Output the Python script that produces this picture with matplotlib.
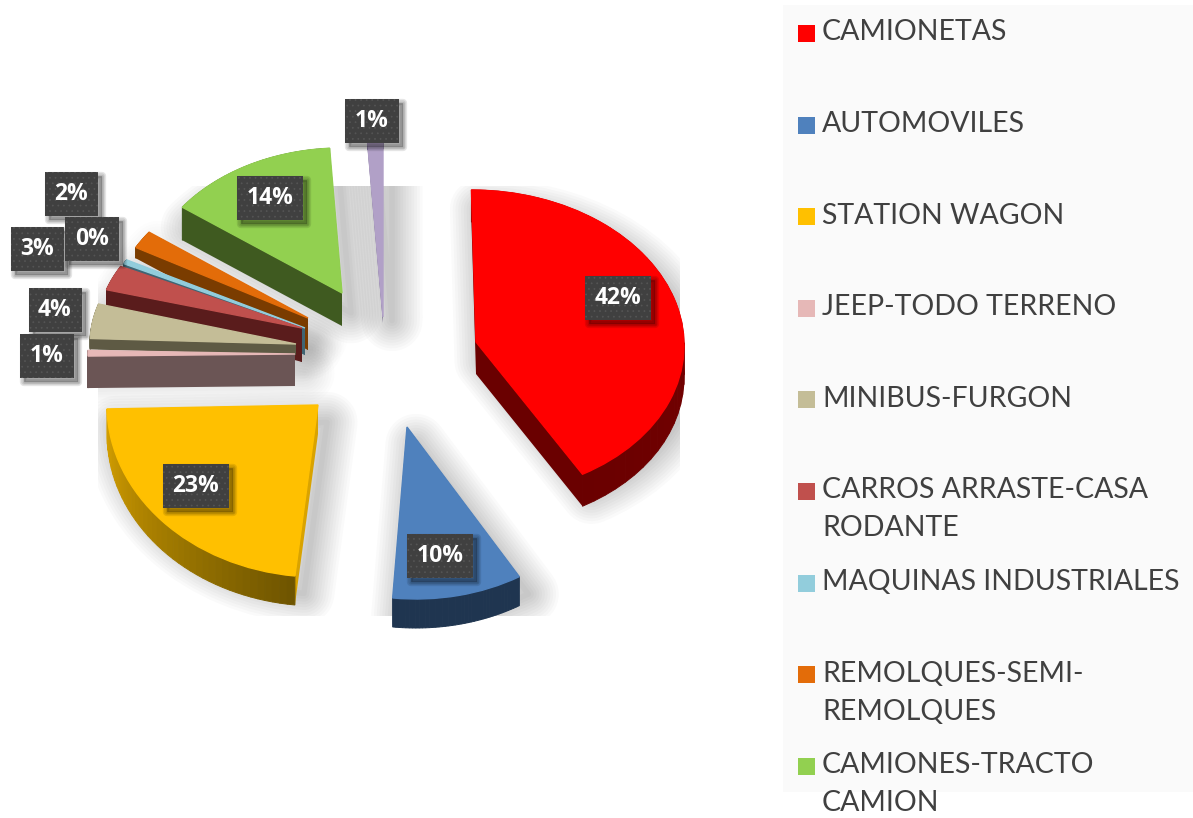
import numpy as np
import matplotlib
matplotlib.use("Agg")
import matplotlib.pyplot as plt
from matplotlib.patches import Rectangle, Wedge
from matplotlib.transforms import Affine2D
from matplotlib.colors import to_rgb

# =========================================================
# data
# =========================================================
legend_labels = ["CAMIONETAS", "AUTOMOVILES", "STATION WAGON", "JEEP-TODO TERRENO",
                 "MINIBUS-FURGON", "CARROS ARRASTE-CASA\nRODANTE",
                 "MAQUINAS INDUSTRIALES", "REMOLQUES-SEMI-\nREMOLQUES",
                 "CAMIONES-TRACTO\nCAMION"]
values = [42, 10, 23, 1, 4, 3, 0.49, 2, 14, 1]
colors = ["#ff0000", "#4f81bd", "#ffc000", "#e6b8b7", "#c4bd97",
          "#c0504d", "#92cddc", "#e36c09", "#92d050", "#b1a0c7"]

# =========================================================
# layout, in pixels of the picture
# =========================================================
rim_from = ["#6a0000", "#1f3550", "#d9a300", "#6b5555", "#5e5a44",
            "#5a1c1c", "#3f6473", "#7a3c00", "#3f5a20", "#4b3f6b"]
rim_to = ["#7d0000", "#1f3550", "#6e5400", "#6b5555", "#5e5a44",
          "#5a1c1c", "#3f6473", "#7a3c00", "#3f5a20", "#4b3f6b"]
centre_x = [476, 407, 318, 295, 296, 302, 305, 308, 342, 383]
centre_y = [342, 427, 405, 354, 344, 328, 328, 318, 293, 317]
radius_x = [208, 212, 211, 207, 206, 204, 204, 197, 198, 246]
radius_y = [152, 172, 172, 90, 140, 134, 140, 145, 145, 174]
shear = [0.03, 0.052, 0.0, 0.0, 0.0, 0.0, 0.0, 0.0, 0.0, 0.0]
depth = [32, 29, 29, 32, 11, 34, 27, 32, 33, 6]
taper = [1.0, 1.0, 1.0, 1.0, 1.0, 1.4, 1.33, 1.3, 1.0, 1.0]
shadow_alpha = [0.02, 0.02, 0.02, 0.012, 0.006, 0.006, 0.003, 0.006, 0.02, 0.02]
draw_order = [9, 8, 7, 6, 5, 4, 3, 2, 0, 1]
label_x = [618, 440, 196, 47, 55, 37, 92, 71, 270, 372]
label_y = [298, 556, 486, 356, 310, 249, 239, 194, 198, 121]

# =========================================================
# plotting
# =========================================================
plt.rcParams["hatch.linewidth"] = 0.5
fig = plt.figure(figsize=(11.93, 8.18), dpi=100)
ax = fig.add_axes([0, 0, 1, 1])

wedges, _, pct_texts = ax.pie(values, colors=colors, startangle=90, counterclock=False,
                              autopct="%.0f%%", radius=1)
ax.set_aspect("auto")
ax.set_xlim(0, 1193)
ax.set_ylim(818, 0)
ax.axis("off")


def face_matrix(i, dy=0.0, scale_y=1.0):
    # unit pie -> pixels for one slice (every slice has its own placement)
    ry = radius_y[i] * scale_y
    return np.array([[radius_x[i], -shear[i] * ry, centre_x[i]],
                     [0.0, -ry, centre_y[i] + dy],
                     [0.0, 0.0, 1.0]])


def to_pixels(matrix, angles):
    pts = np.column_stack([np.cos(angles), np.sin(angles), np.ones(len(angles))])
    return (matrix @ pts.T).T[:, :2]


# soft shadows, cut off by the picture area of the original
clip = Rectangle((98, 186), 582, 430, transform=ax.transData)
for i, w in enumerate(wedges):
    tr = Affine2D(face_matrix(i, dy=depth[i] * 0.6)).translate(9, 0) + ax.transData
    for lw in range(44, 0, -4):
        s = Wedge((0, 0), 1, w.theta1, w.theta2, facecolor="none",
                  edgecolor=(0, 0, 0, shadow_alpha[i]), linewidth=lw,
                  joinstyle="round", zorder=1)
        s.set_transform(tr)
        ax.add_patch(s)
        s.set_clip_path(clip)

# slices with their sides
for rank, i in enumerate(draw_order):
    w = wedges[i]
    z = 2 + rank
    top = face_matrix(i)
    bottom = face_matrix(i, dy=depth[i], scale_y=taper[i])
    n = 40
    angles = np.radians(np.linspace(w.theta1, w.theta2, n + 1))
    top_arc = to_pixels(top, angles)
    bottom_arc = to_pixels(bottom, angles)
    c0, c1 = np.array(to_rgb(rim_from[i])), np.array(to_rgb(rim_to[i]))
    apex_top = top[:2, 2]
    apex_bottom = bottom[:2, 2]
    for end in (0, n):
        ax.fill([apex_top[0], top_arc[end, 0], bottom_arc[end, 0], apex_bottom[0]],
                [apex_top[1], top_arc[end, 1], bottom_arc[end, 1], apex_bottom[1]],
                color=c0, lw=0, zorder=z)
    for j in range(n):
        col = c0 + (c1 - c0) * (j + 0.5) / n
        ax.fill([top_arc[j, 0], top_arc[j + 1, 0], bottom_arc[j + 1, 0], bottom_arc[j, 0]],
                [top_arc[j, 1], top_arc[j + 1, 1], bottom_arc[j + 1, 1], bottom_arc[j, 1]],
                color=col, lw=0.7, zorder=z)
    w.set_transform(Affine2D(top) + ax.transData)
    w.set_zorder(z + 0.5)
    w.set_edgecolor(colors[i])
    w.set_linewidth(1)

# percentage labels
for i, t in enumerate(pct_texts):
    t.set_position((label_x[i], label_y[i]))
    t.set(color="white", fontsize=16.5, fontweight="bold", family="Open Sans",
          ha="center", va="center", zorder=30)
    t.set_bbox(dict(boxstyle="square,pad=0.42", facecolor="#404040", edgecolor="#555555",
                    hatch="...", linewidth=0))

# blurred shadow under each label box
fig.canvas.draw()
to_data = ax.transData.inverted()
for t in pct_texts:
    bb = t.get_bbox_patch().get_window_extent(fig.canvas.get_renderer())
    x0, y0 = to_data.transform((bb.x0, bb.y0))
    x1, y1 = to_data.transform((bb.x1, bb.y1))
    for lw in (6, 4, 2):
        ax.add_patch(Rectangle((x0 + 4, y0 + 4), x1 - x0, y1 - y0, facecolor=(0, 0, 0, 0.1),
                               edgecolor=(0, 0, 0, 0.1), linewidth=lw, joinstyle="round", zorder=29))

# legend panel, entries sit on a fixed row spacing
ax.add_patch(Rectangle((783, 5), 410, 787, facecolor="#fafafa", edgecolor="none", zorder=0))
row_y = 42
for i, label in enumerate(legend_labels):
    ax.add_patch(Rectangle((798, row_y - 17), 17, 17, facecolor=colors[i],
                           edgecolor="none", zorder=5))
    for k, line in enumerate(label.split("\n")):
        ax.text(822, row_y - 1.5 + k * 38, line, fontsize=20.5, color="#404040",
                family="Lato", va="baseline", ha="left", zorder=5)
    row_y += 91.6

fig.savefig("out.png", dpi=100)
